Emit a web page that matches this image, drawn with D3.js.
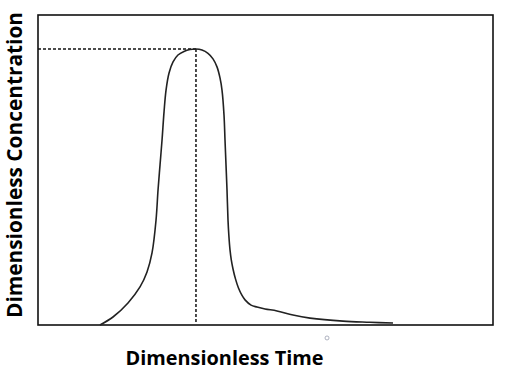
<!DOCTYPE html>
<html>
<head>
<meta charset="utf-8">
<script src="https://cdn.jsdelivr.net/npm/d3@7"></script>
<style>
  body { margin: 0; background: #fff; }
  .label { font-family: "Open Sans", sans-serif; font-weight: 700; fill: #000; }
</style>
</head>
<body>
<div id="vis"></div>
<script>
// dimensionless time (x) and concentration (y)
var time = [0.681, 0.824, 0.989, 1.121, 1.198, 1.253, 1.297, 1.319, 1.341, 1.363, 1.385, 1.407,
            1.440, 1.484, 1.538, 1.604, 1.670, 1.736, 1.802, 1.868, 1.923, 1.967, 2.000, 2.022,
            2.044, 2.055, 2.066, 2.077, 2.088, 2.097, 2.110, 2.124, 2.143, 2.170, 2.203, 2.242,
            2.275, 2.341, 2.407, 2.495, 2.626, 2.802, 2.989, 3.352, 3.648, 3.901];
var concentration = [0.000, 0.029, 0.080, 0.138, 0.192, 0.261, 0.380, 0.489, 0.580, 0.670, 0.772, 0.851,
                     0.913, 0.953, 0.978, 0.991, 0.998, 1.000, 0.996, 0.984, 0.964, 0.935, 0.895, 0.851,
                     0.761, 0.670, 0.580, 0.489, 0.380, 0.326, 0.272, 0.236, 0.203, 0.167, 0.134, 0.107,
                     0.091, 0.072, 0.065, 0.058, 0.051, 0.036, 0.025, 0.014, 0.010, 0.007];
var peak = { t: 1.736, c: 1.0 };
var xTitle = "Dimensionless Time";
var yTitle = "Dimensionless Concentration";

var width = 508, height = 374;
var box = { left: 38, top: 15, right: 493, bottom: 325 };

var x = d3.scaleLinear().domain([0, 5]).range([box.left, box.right]);
var y = d3.scaleLinear().domain([0, 1.123]).range([box.bottom, box.top]);

var svg = d3.select("#vis").append("svg")
    .attr("width", width)
    .attr("height", height);

var data = time.map(function(t, i) { return { t: t, c: concentration[i] }; });

// frame
svg.append("rect")
  .attr("x", box.left)
  .attr("y", box.top)
  .attr("width", box.right - box.left)
  .attr("height", box.bottom - box.top)
  .attr("fill", "none")
  .attr("stroke", "#111")
  .attr("stroke-width", 1.6);

// dashed guides to the peak
svg.append("line")
  .attr("x1", x(0)).attr("y1", y(peak.c))
  .attr("x2", x(peak.t)).attr("y2", y(peak.c))
  .attr("stroke", "#111").attr("stroke-width", 1.5)
  .attr("stroke-dasharray", "3,2");

svg.append("line")
  .attr("x1", x(peak.t)).attr("y1", y(peak.c))
  .attr("x2", x(peak.t)).attr("y2", y(0) - 3)
  .attr("stroke", "#111").attr("stroke-width", 1.5)
  .attr("stroke-dasharray", "3,2");

var line = d3.line()
  .x(function(d) { return x(d.t); })
  .y(function(d) { return y(d.c); })
  .curve(d3.curveCatmullRom.alpha(0.5));

svg.append("path")
  .datum(data)
  .attr("d", line)
  .attr("fill", "none")
  .attr("stroke", "#222")
  .attr("stroke-width", 1.6);

// little stray circle under the axis
svg.append("circle")
  .attr("cx", x(3.176))
  .attr("cy", y(-0.047))
  .attr("r", 2)
  .attr("fill", "none")
  .attr("stroke", "#9aa0b0")
  .attr("stroke-width", 0.8);

svg.append("text")
  .attr("class", "label")
  .attr("x", 224.5)
  .attr("y", 365)
  .attr("text-anchor", "middle")
  .attr("font-size", 20)
  .attr("textLength", 198)
  .attr("lengthAdjust", "spacingAndGlyphs")
  .text(xTitle);

svg.append("text")
  .attr("class", "label")
  .attr("transform", "translate(22,165) rotate(-90)")
  .attr("text-anchor", "middle")
  .attr("font-size", 21)
  .attr("textLength", 306)
  .attr("lengthAdjust", "spacingAndGlyphs")
  .text(yTitle);
</script>
</body>
</html>
